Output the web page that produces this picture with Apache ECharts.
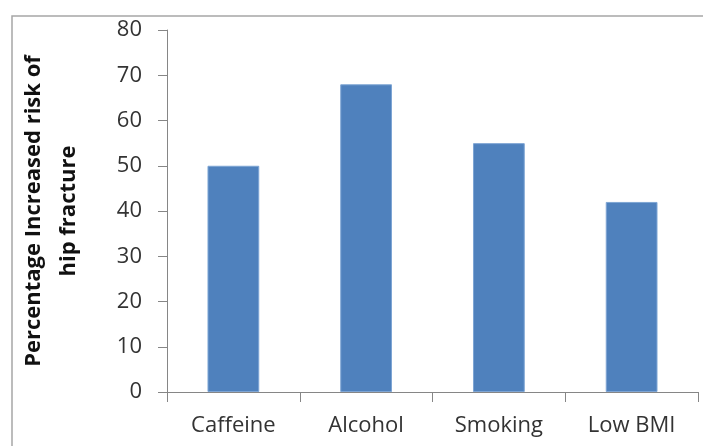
<!DOCTYPE html>
<html><head><meta charset="utf-8">
<script src="https://cdn.jsdelivr.net/npm/echarts@6/dist/echarts.min.js"></script>
<style>html,body{margin:0;padding:0;background:#fff}#c{width:703px;height:446px}</style>
</head><body><div id="c"></div>
<script>
const categories = ['Caffeine', 'Alcohol', 'Smoking', 'Low BMI'];
const riskValues = [50, 68, 55, 42];
const yTicks = {min: 0, max: 80, interval: 10};
const yTitle = 'Percentage Increased risk of\nhip fracture';

const chart = echarts.init(document.getElementById('c'), null, {renderer: 'canvas'});
const font = '"Open Sans", Lato, sans-serif';
chart.setOption({
  animation: false,
  backgroundColor: '#fff',
  graphic: [{
    type: 'rect', left: 9.5, top: 13.5,
    shape: {width: 720, height: 460},
    style: {fill: 'none', stroke: '#a6a6a6', lineWidth: 1.5}, silent: true
  }],
  grid: {left: 167, right: 5, top: 30, bottom: 54, containLabel: false},
  xAxis: {
    type: 'category', data: categories,
    axisLine: {lineStyle: {color: '#868686', width: 1}},
    axisTick: {show: true, length: 10, alignWithLabel: false, lineStyle: {color: '#868686'}},
    axisLabel: {color: '#333', fontFamily: font, fontSize: 22, margin: 23}
  },
  yAxis: {
    type: 'value', min: yTicks.min, max: yTicks.max, interval: yTicks.interval,
    name: yTitle, nameLocation: 'middle', nameGap: 81, nameRotate: 90,
    nameTextStyle: {color: '#111', fontFamily: font, fontWeight: 'bold', fontSize: 22, lineHeight: 35},
    axisLine: {show: true, lineStyle: {color: '#868686', width: 1}},
    axisTick: {show: true, length: 9, lineStyle: {color: '#868686'}},
    splitLine: {show: false},
    axisLabel: {color: '#333', fontFamily: font, fontSize: 22, margin: 25}
  },
  series: [{
    type: 'bar', data: riskValues, barWidth: '39%',
    itemStyle: {color: '#4F81BD', borderColor: '#7ea5d4', borderWidth: 1}
  }]
});
</script></body></html>
